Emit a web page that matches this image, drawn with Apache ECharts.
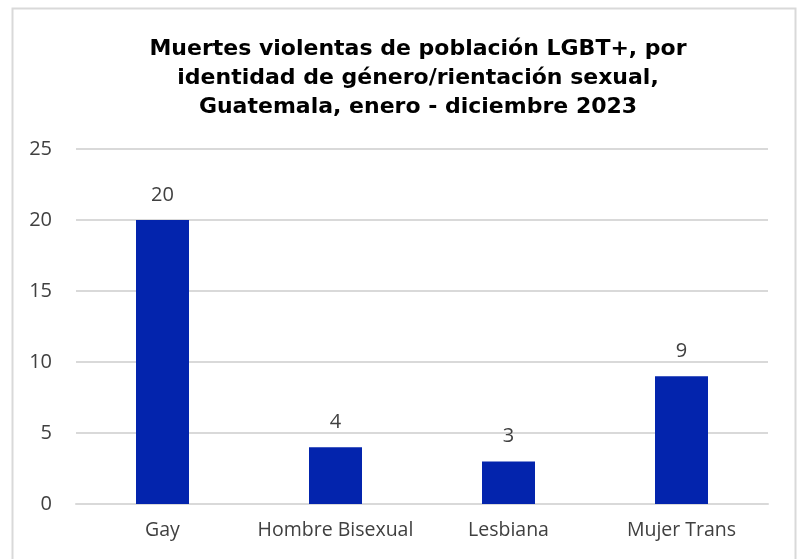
<!DOCTYPE html>
<html><head><meta charset="utf-8">
<script src="https://cdn.jsdelivr.net/npm/echarts@6/dist/echarts.min.js"></script>
<style>html,body{margin:0;padding:0;background:#fff}#c{width:801px;height:559px}</style>
</head><body><div id="c"></div>
<script>
const categories = ["Gay", "Hombre Bisexual", "Lesbiana", "Mujer Trans"];
const values = [20, 4, 3, 9];
const yTicks = [0, 5, 10, 15, 20, 25];
const titleText = "Muertes violentas de población LGBT+, por\nidentidad de género/rientación sexual,\nGuatemala, enero - diciembre 2023";

const chart = echarts.init(document.getElementById('c'));
chart.setOption({
  backgroundColor: '#fff',
  animation: false,
  graphic: [{type:'rect', shape:{x:12.5,y:8.5,width:783,height:600}, style:{fill:'none',stroke:'#D9D9D9',lineWidth:2}, silent:true}],
  title: {text: titleText, left: 413, top: 30, textAlign: 'center',
    textStyle: {fontFamily:'DejaVu Sans', fontWeight:'bold', fontSize:22, lineHeight:29, color:'#000'}},
  grid: {left: 76, right: 33, top: 149, bottom: 55},
  xAxis: {type:'category', data: categories,
    axisLine:{show:true, lineStyle:{color:'#D9D9D9', width:2}}, axisTick:{show:false},
    axisLabel:{interval:0, hideOverlap:false, fontFamily:'Open Sans', fontSize:19.5, color:'#404040', margin:16}},
  yAxis: {type:'value', min: yTicks[0], max: yTicks[yTicks.length-1], interval: 5,
    axisLine:{show:false}, axisTick:{show:false},
    splitLine:{lineStyle:{color:'#D9D9D9', width:2}},
    axisLabel:{fontFamily:'Open Sans', fontSize:20, color:'#404040', margin:24}},
  series: [{type:'bar', data: values, barWidth: 53, itemStyle:{color:'#0324AD'},
    label:{show:true, position:'top', distance:15, fontFamily:'Open Sans', fontSize:20, color:'#404040'}}]
});
</script></body></html>
